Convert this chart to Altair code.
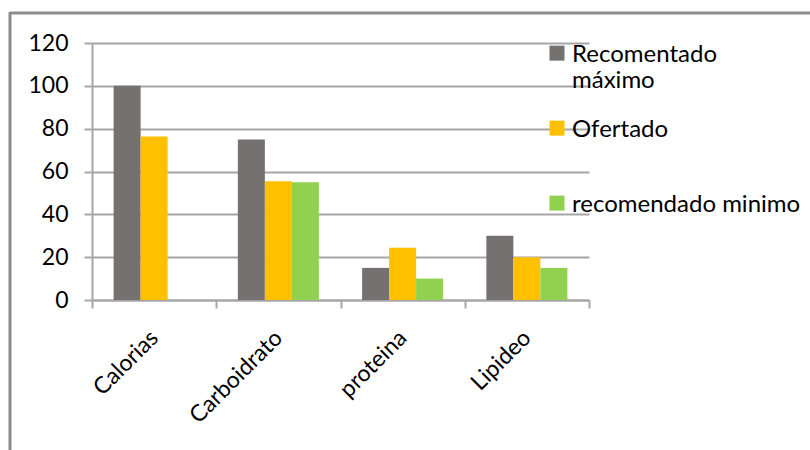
import altair as alt
import pandas as pd

categories = ["Calorias", "Carboidrato", "proteina", "Lipideo"]
series = ["Recomentado máximo", "Ofertado", "recomendado minimo"]
rec_max = [100, 75, 15, 30]
ofertado = [76.3, 55.5, 24.4, 20]
rec_min = [None, 55, 10, 15]
colors = ["#767171", "#FFC000", "#92D050"]
y_ticks = [0, 20, 40, 60, 80, 100, 120]

rows = []
for s, vals in zip(series, [rec_max, ofertado, rec_min]):
    for c, v in zip(categories, vals):
        if v is not None:
            rows.append({"categoria": c, "serie": s, "valor": v})
df = pd.DataFrame(rows)

FONT = "Lato"
GRID = "#A6A6A6"
# square swatch shifted down so that it lines up with the first text line
SWATCH = "M-1,0.35H1V2.35H-1Z"

bars = alt.Chart(df).mark_bar().encode(
    x=alt.X(
        "categoria:N",
        sort=categories,
        scale=alt.Scale(paddingInner=0, paddingOuter=0),
        axis=alt.Axis(
            title=None,
            labelAngle=-45,
            labelAlign="right",
            labelBaseline="middle",
            labelPadding=26,
            labelFontSize=23,
            labelColor="#000000",
            labelFont=FONT,
            tickBand="extent",
            tickSize=8,
            tickColor=GRID,
            tickWidth=2,
            domainColor=GRID,
            domainWidth=2,
            grid=False,
        ),
    ),
    xOffset=alt.XOffset(
        "serie:N",
        sort=series,
        scale=alt.Scale(domain=series, paddingInner=0, paddingOuter=0.8),
    ),
    y=alt.Y(
        "valor:Q",
        scale=alt.Scale(domain=[0, 120], nice=False),
        axis=alt.Axis(
            title=None,
            values=y_ticks,
            labelFontSize=23,
            labelFont=FONT,
            labelColor="#000000",
            labelPadding=16,
            tickSize=8,
            tickColor=GRID,
            tickWidth=2,
            domainColor=GRID,
            domainWidth=2,
            grid=True,
            gridColor=GRID,
            gridWidth=2,
        ),
    ),
    color=alt.Color(
        "serie:N",
        sort=series,
        scale=alt.Scale(domain=series, range=colors),
        legend=alt.Legend(
            title=None,
            orient="none",
            legendX=453,
            legendY=-12,
            padding=0,
            symbolType=SWATCH,
            symbolSize=225,
            symbolStrokeWidth=0,
            symbolOpacity=1,
            labelFont=FONT,
            labelFontSize=24,
            labelColor="#000000",
            labelBaseline="top",
            labelLimit=400,
            labelOffset=3,
            gridAlign="all",
            rowPadding=13,
            labelExpr="datum.label == 'Recomentado máximo' ? ['Recomentado', 'máximo'] : datum.label",
        ),
    ),
)

frame_df = pd.DataFrame({"k": [0]})
top_line = alt.Chart(frame_df).mark_rule(color="#8C8C8C", strokeWidth=3).encode(
    x=alt.value(-82), x2=alt.value(740), y=alt.value(-30)
)
left_line = alt.Chart(frame_df).mark_rule(color="#8C8C8C", strokeWidth=3).encode(
    x=alt.value(-82), y=alt.value(-31), y2=alt.value(420)
)

chart = alt.layer(bars, top_line, left_line).properties(
    width=497,
    height=257,
    autosize=alt.AutoSizeParams(type="none"),
    padding={"left": 92, "top": 43, "right": 221, "bottom": 150},
    background="#FFFFFF",
).configure_view(stroke=None)

chart.save("out.html", embed_options={"renderer": "svg", "actions": False})
